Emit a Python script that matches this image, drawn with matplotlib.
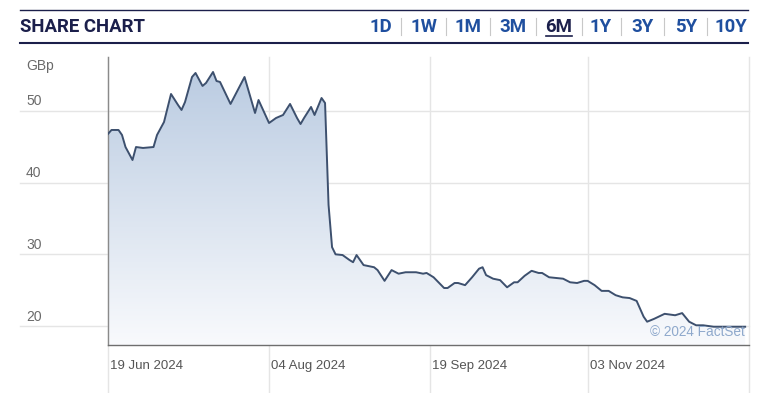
import numpy as np
import pandas as pd
import matplotlib
matplotlib.use("Agg")
import matplotlib.pyplot as plt
from matplotlib.lines import Line2D

# ---------------- data ----------------
dates = ["2024-06-19", "2024-06-20", "2024-06-22", "2024-06-23", "2024-06-24", "2024-06-26",
         "2024-06-27", "2024-06-29", "2024-07-02", "2024-07-03", "2024-07-05", "2024-07-07",
         "2024-07-09", "2024-07-10", "2024-07-11", "2024-07-13", "2024-07-14", "2024-07-16",
         "2024-07-17", "2024-07-19", "2024-07-20", "2024-07-21", "2024-07-24", "2024-07-28",
         "2024-07-31", "2024-08-01", "2024-08-04", "2024-08-06", "2024-08-08", "2024-08-10",
         "2024-08-12", "2024-08-13", "2024-08-14", "2024-08-16", "2024-08-17", "2024-08-19",
         "2024-08-20", "2024-08-21", "2024-08-22", "2024-08-23", "2024-08-25", "2024-08-27",
         "2024-08-28", "2024-08-29", "2024-08-31", "2024-09-03", "2024-09-04", "2024-09-06",
         "2024-09-08", "2024-09-10", "2024-09-12", "2024-09-15", "2024-09-17", "2024-09-18",
         "2024-09-20", "2024-09-23", "2024-09-24", "2024-09-26", "2024-09-27", "2024-09-29",
         "2024-10-01", "2024-10-03", "2024-10-04", "2024-10-05", "2024-10-07", "2024-10-09",
         "2024-10-11", "2024-10-13", "2024-10-14", "2024-10-16", "2024-10-18", "2024-10-20",
         "2024-10-21", "2024-10-23", "2024-10-27", "2024-10-29", "2024-10-31", "2024-11-02",
         "2024-11-03", "2024-11-05", "2024-11-07", "2024-11-09", "2024-11-11", "2024-11-13",
         "2024-11-15", "2024-11-17", "2024-11-19", "2024-11-20", "2024-11-22", "2024-11-25",
         "2024-11-28", "2024-11-30", "2024-12-02", "2024-12-04", "2024-12-06", "2024-12-09",
         "2024-12-12", "2024-12-15", "2024-12-18"]
prices = [46.8, 47.35, 47.35, 46.65, 44.97, 43.16,
          44.97, 44.84, 44.97, 46.65, 48.46, 52.37,
          50.84, 50.14, 51.25, 54.74, 55.30, 53.49,
          53.91, 55.44, 54.18, 54.05, 50.98, 54.74,
          49.72, 51.53, 48.32, 49.02, 49.44, 50.98,
          49.02, 48.18, 49.02, 50.56, 49.44, 51.81,
          51.11, 36.9, 31.0, 30.0, 29.9, 29.2,
          28.9, 29.9, 28.5, 28.2, 27.8, 26.3,
          27.8, 27.3, 27.5, 27.5, 27.3, 27.4,
          26.8, 25.3, 25.3, 26.0, 26.0, 25.7,
          26.8, 28.0, 28.2, 27.1, 26.6, 26.4,
          25.4, 26.1, 26.1, 27.0, 27.7, 27.4,
          27.4, 26.8, 26.6, 26.1, 26.0, 26.3,
          26.3, 25.7, 24.9, 24.9, 24.3, 24.0,
          23.9, 23.5, 21.3, 20.6, 21.0, 21.7,
          21.5, 21.8, 20.6, 20.1, 20.1, 19.9,
          19.9, 19.9, 19.9]
y_ticks = [20, 30, 40, 50]
x_ticks = ["2024-06-19", "2024-08-04", "2024-09-19", "2024-11-03"]
x_tick_labels = ["19 Jun 2024", "04 Aug 2024", "19 Sep 2024", "03 Nov 2024"]
tabs = ["1D", "1W", "1M", "3M", "6M", "1Y", "3Y", "5Y", "10Y"]
active_tab = "6M"
title = "SHARE CHART"
unit = "GBp"
credit = "\u00a9 2024 FactSet"

# ---------------- figure ----------------
W, H = 760, 393
fig = plt.figure(figsize=(W / 100, H / 100), dpi=100)
plt.rcParams['font.family'] = ['Liberation Sans', 'DejaVu Sans']

def fx(px):
    return px / W

def fy(py):
    return 1 - py / H

ax_l, ax_r, ax_t, ax_b = 108, 749, 57, 345
ax = fig.add_axes([fx(ax_l), fy(ax_b), (ax_r - ax_l) / W, (ax_b - ax_t) / H])
ax.set_facecolor('none')

x = pd.to_datetime(dates)
xd = matplotlib.dates.date2num(x)
x_start = matplotlib.dates.date2num(pd.Timestamp("2024-06-19"))
x_end = matplotlib.dates.date2num(pd.Timestamp("2024-12-19")) + 0.1
ymin, ymax = 17.35, 57.53
ax.set_xlim(x_start, x_end)
ax.set_ylim(ymin, ymax)

# gradient fill below the line
grad = np.linspace(0, 1, 256).reshape(-1, 1)
top_c = np.array([0.72, 0.79, 0.88])
bot_c = np.array([0.975, 0.98, 0.99])
img = top_c * (1 - grad[..., None]) + bot_c * grad[..., None]
img = img.reshape(256, 1, 3)
im = ax.imshow(img, extent=[x_start, x_end, ymin, ymax], aspect='auto',
               origin='upper', zorder=1)
poly = ax.fill_between(xd, prices, ymin, facecolor='none', edgecolor='none')
im.set_clip_path(poly.get_paths()[0], transform=ax.transData)

ax.plot(xd, prices, color='#3d506e', lw=1.4, zorder=3, solid_joinstyle='round')

for s in ['top', 'right']:
    ax.spines[s].set_visible(False)
ax.spines['left'].set_color('#8a8a8a')
ax.spines['left'].set_linewidth(1.0)
ax.spines['bottom'].set_color('#6e6e6e')
ax.spines['bottom'].set_linewidth(1.0)
ax.set_xticks([])
ax.set_yticks([])

fig.canvas.draw()
inv = fig.transFigure.inverted()

def data_to_fig(xv, yv):
    return inv.transform(ax.transData.transform((xv, yv)))

grid_c = '#e5e5e5'
# horizontal grid lines + y labels
for v in y_ticks:
    _, yy = data_to_fig(x_start, v)
    fig.add_artist(Line2D([fx(20), fx(ax_r)], [yy, yy], color=grid_c, lw=1.0, zorder=0))
    fig.text(fx(26), yy + 2.5 / H, str(v), ha='left', va='bottom',
             fontsize=10, color='#6a6a6a')
fig.text(fx(26), fy(66), unit, ha='left', va='center', fontsize=10, color='#6a6a6a')

# vertical grid lines + x labels
for d, lab in zip(x_ticks, x_tick_labels):
    xv = matplotlib.dates.date2num(pd.Timestamp(d))
    xx, _ = data_to_fig(xv, ymin)
    fig.add_artist(Line2D([xx, xx], [0, fy(ax_t)], color=grid_c, lw=1.0, zorder=0))
    fig.text(xx + 2 / W, fy(366), lab, ha='left', va='center', fontsize=9.5, color='#555555')
fig.add_artist(Line2D([fx(ax_r), fx(ax_r)], [0, fy(ax_t)], color=grid_c, lw=1.0, zorder=0))

# credit
fig.text(fx(745), fy(332), credit, ha='right', va='center', fontsize=9.8, color='#8fa9cc')

# header
fig.add_artist(Line2D([fx(20), fx(748)], [fy(10), fy(10)], color='#1b1f4b', lw=1.0))
fig.add_artist(Line2D([fx(20), fx(748)], [fy(43), fy(43)], color='#1b1f4b', lw=1.5))
fig.text(fx(20), fy(26.5), title, ha='left', va='center', fontsize=13.4,
         fontweight='bold', family='Roboto', color='#1b1f4b')

tab_centers = [381, 424, 468, 513, 559, 601, 643, 686, 731]
sep_x = [401, 446, 490, 536, 582, 621, 664, 707]
for t, cx in zip(tabs, tab_centers):
    col = '#1b1f4b' if t == active_tab else '#1f4f9f'
    fig.text(fx(cx), fy(26.5), t, ha='center', va='center', fontsize=13.4,
             fontweight='bold', family='Roboto', color=col)
    if t == active_tab:
        fig.add_artist(Line2D([fx(cx - 13), fx(cx + 13)], [fy(35.5), fy(35.5)],
                              color=col, lw=1.2))
for sx in sep_x:
    fig.add_artist(Line2D([fx(sx), fx(sx)], [fy(18), fy(35)], color='#c8c8c8', lw=0.8))

fig.savefig("out.png", dpi=100)
